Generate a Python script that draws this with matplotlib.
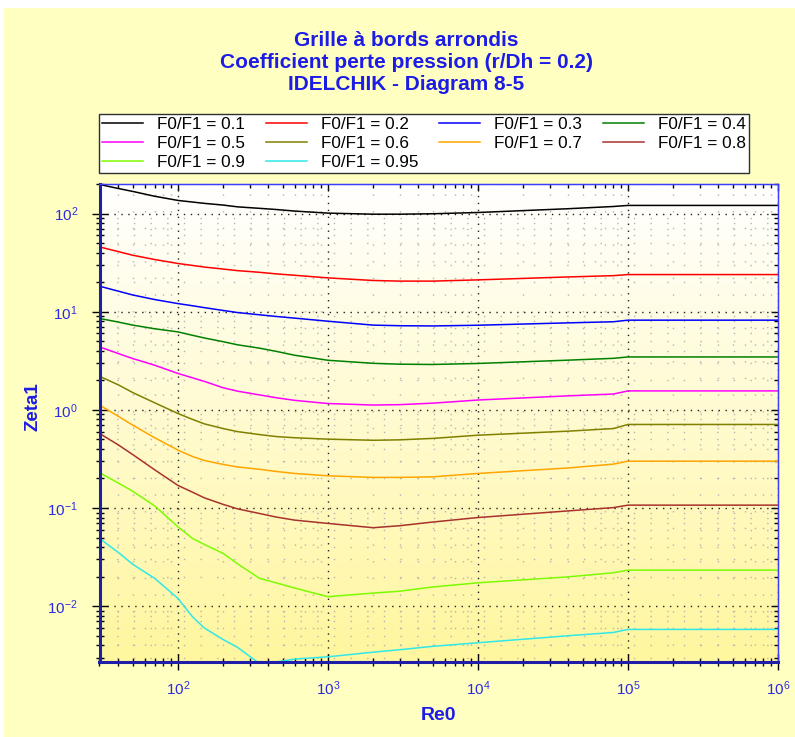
import numpy as np
import matplotlib
matplotlib.use("Agg")
import matplotlib.pyplot as plt
from matplotlib.patches import Rectangle

plt.rcParams['font.family'] = ['Liberation Sans', 'DejaVu Sans']
plt.rcParams['mathtext.fontset'] = 'custom'
plt.rcParams['mathtext.rm'] = 'Liberation Sans'
plt.rcParams['mathtext.it'] = 'Liberation Sans:italic'
plt.rcParams['mathtext.bf'] = 'Liberation Sans:bold'
plt.rcParams['axes.unicode_minus'] = False

# ---------------- data ----------------
re0 = [30, 40, 50, 70, 100, 125, 150, 200, 250, 350, 450, 600, 1000, 2000, 3000, 5000,
       1e4, 4e4, 8e4, 1e5, 1e6]

zeta_01 = [198, 180, 168, 150, 136, 131, 127, 122, 117, 113, 110, 106, 101, 98.5, 98.5, 99.5,
           102.5, 112, 118, 121, 121]
zeta_02 = [45.7, 41, 37.6, 34, 31, 29.6, 28.5, 27.2, 26.2, 25.2, 24.3, 23.5, 22.1, 20.8, 20.5, 20.5,
           21.1, 22.6, 23.3, 23.9, 23.9]
zeta_03 = [18.2, 16.2, 14.8, 13.3, 12.1, 11.5, 11.0, 10.3, 9.8, 9.3, 8.95, 8.6, 8.0, 7.3, 7.2, 7.16,
           7.28, 7.7, 7.9, 8.2, 8.2]
zeta_04 = [8.53, 7.85, 7.3, 6.7, 6.23, 5.75, 5.4, 4.95, 4.6, 4.25, 3.95, 3.6, 3.2, 2.98, 2.92, 2.90,
           2.97, 3.21, 3.35, 3.46, 3.46]
zeta_05 = [4.38, 3.75, 3.33, 2.85, 2.35, 2.12, 1.95, 1.68, 1.55, 1.42, 1.33, 1.25, 1.16, 1.12, 1.13, 1.17,
           1.26, 1.39, 1.45, 1.56, 1.56]
zeta_06 = [2.2, 1.8, 1.5, 1.18, 0.918, 0.8, 0.72, 0.645, 0.6, 0.56, 0.535, 0.52, 0.503, 0.49, 0.495, 0.512,
           0.552, 0.607, 0.645, 0.71, 0.71]
zeta_07 = [1.12, 0.86, 0.698, 0.52, 0.389, 0.335, 0.305, 0.278, 0.262, 0.248, 0.236, 0.225, 0.213, 0.205, 0.205, 0.208,
           0.225, 0.256, 0.28, 0.30, 0.30]
zeta_08 = [0.575, 0.44, 0.35, 0.245, 0.17, 0.145, 0.127, 0.109, 0.098, 0.088, 0.081, 0.0753, 0.0697, 0.063, 0.066, 0.072,
           0.080, 0.0935, 0.101, 0.107, 0.107]
zeta_09 = [0.229, 0.18, 0.148, 0.105, 0.0644, 0.049, 0.0425, 0.0345, 0.027, 0.0192, 0.0173, 0.0153, 0.0125, 0.0136, 0.0142, 0.0157,
           0.0173, 0.0199, 0.0219, 0.0233, 0.0233]
zeta_095 = [0.049, 0.0353, 0.0267, 0.0192, 0.012, 0.0078, 0.0060, 0.00457, 0.0038, 0.0026, 0.0027, 0.00289, 0.00305, 0.0034, 0.0036, 0.0039,
            0.00424, 0.0050, 0.0054, 0.0058, 0.0058]

labels = ["F0/F1 = 0.1", "F0/F1 = 0.2", "F0/F1 = 0.3", "F0/F1 = 0.4",
          "F0/F1 = 0.5", "F0/F1 = 0.6", "F0/F1 = 0.7", "F0/F1 = 0.8",
          "F0/F1 = 0.9", "F0/F1 = 0.95"]
series = [zeta_01, zeta_02, zeta_03, zeta_04, zeta_05, zeta_06, zeta_07,
          zeta_08, zeta_09, zeta_095]
colors = ['#000000', '#ff0000', '#0000ff', '#008000', '#ff00ff', '#808000',
          '#ffa500', '#a8322d', '#7cfc00', '#30e8e8']

title_lines = ["Grille à bords arrondis",
               "Coefficient perte pression (r/Dh = 0.2)",
               "IDELCHIK - Diagram 8-5"]

# ---------------- figure ----------------
W, H = 795, 737
fig = plt.figure(figsize=(W / 100, H / 100), dpi=100)
fig.patch.set_facecolor('white')
fig.patches.append(Rectangle((4 / W, 0), 1 - 4 / W, 1 - 8 / H, transform=fig.transFigure,
                             facecolor='#ffffc2', edgecolor='none', zorder=-10))

pos = [99.5 / W, 1 - 662 / H, (778 - 99.5) / W, (662 - 184) / H]

# gradient background
bg = fig.add_axes(pos, zorder=0)
t = np.linspace(0, 1, 256)[:, None]
top = np.array([1.0, 1.0, 1.0])
bot = np.array([1.0, 0.965, 0.62])
grad = top[None, None, :] * (1 - t[..., None]) + bot[None, None, :] * t[..., None]
grad = np.repeat(grad, 2, axis=1)
bg.imshow(grad, extent=[0, 1, 0, 1], aspect='auto', origin='upper')
bg.axis('off')

ax = fig.add_axes(pos, zorder=1)
ax.set_facecolor('none')
ax.set_xscale('log')
ax.set_yscale('log')

lines = []
for ys, c, lab in zip(series, colors, labels):
    ln, = ax.plot(re0, ys, color=c, lw=1.1, label=lab, solid_joinstyle='round')
    lines.append(ln)

ax.set_xlim(30, 1e6)
ax.set_ylim(0.0027, 200)

ax.grid(True, which='major', linestyle=(0, (1, 4)), color='#202020', lw=1.0)
ax.grid(True, which='minor', linestyle=(0, (1, 11)), color='#b4b4b4', lw=1.0)
ax.set_axisbelow(True)

for s in ['left', 'bottom']:
    ax.spines[s].set_color('#1e1ea8')
    ax.spines[s].set_linewidth(2.2)
for s in ['top', 'right']:
    ax.spines[s].set_color('#3c3cff')
    ax.spines[s].set_linewidth(1.0)

ax.tick_params(which='major', direction='inout', length=11, width=1.0, color='black',
               labelcolor='#2b2be6', labelsize=11)
ax.tick_params(which='minor', direction='inout', length=6, width=1.0, color='black')
ax.tick_params(axis='x', which='major', pad=7)
ax.tick_params(axis='y', which='major', pad=10)

sx = ax.secondary_xaxis('top')
sx.tick_params(which='major', direction='in', length=5, width=1.0, color='black', labeltop=False)
sx.tick_params(which='minor', direction='in', length=3, width=1.0, color='black', labeltop=False)
sx.spines['top'].set_color('#3c3cff')
sy = ax.secondary_yaxis('right')
sy.tick_params(which='major', direction='in', length=5, width=1.0, color='black', labelright=False)
sy.tick_params(which='minor', direction='in', length=3, width=1.0, color='black', labelright=False)
sy.spines['right'].set_color('#3c3cff')

# titles
title_color = '#1c1ce6'
for i, tl in enumerate(title_lines):
    fig.text(406 / W, 1 - (40 + 22 * i) / H, tl, ha='center', va='center',
             color=title_color, fontsize=15, fontweight='bold')

fig.text(438 / W, 1 - 716 / H, "Re0", ha='center', va='center', color=title_color,
         fontsize=14, fontweight='bold')
fig.text(33 / W, 1 - 407 / H, "Zeta1", ha='center', va='center', color=title_color,
         fontsize=13.5, fontweight='bold', rotation=90)

# legend (row-wise order)
order = [0, 4, 8, 1, 5, 9, 2, 6, 3, 7]
leg = fig.legend([lines[i] for i in order], [labels[i] for i in order], ncol=4,
                 loc='upper left', bbox_to_anchor=(99 / W, 1 - 114 / H, 650 / W, 0),
                 mode='expand', frameon=True, fancybox=False, edgecolor='#303030',
                 facecolor='white', framealpha=1, fontsize=12.3, handlelength=2.4,
                 handletextpad=0.8, borderaxespad=0, borderpad=0.2, labelspacing=0.22,
                 columnspacing=0.5)
leg.get_frame().set_linewidth(1.0)

fig.savefig("out.png", dpi=100, facecolor=fig.get_facecolor())
